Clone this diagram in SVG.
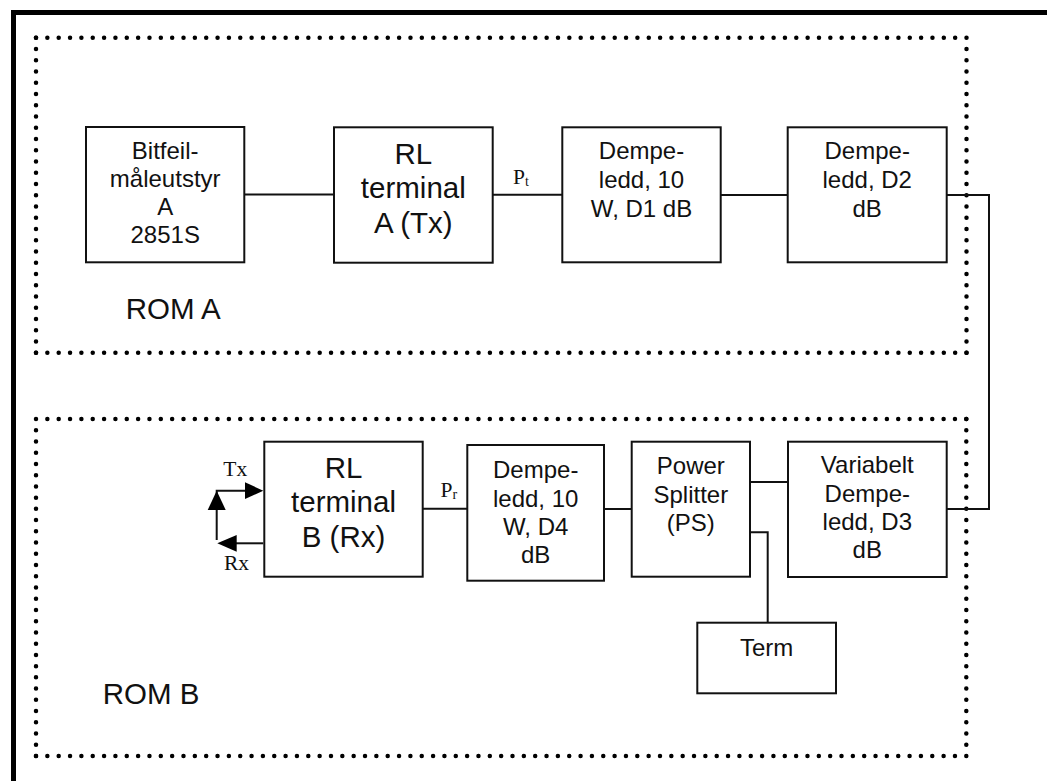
<svg xmlns="http://www.w3.org/2000/svg" width="1047" height="781" viewBox="0 0 1047 781">
<style>
.box{fill:#fff;stroke:#111;stroke-width:2}
.ln{fill:none;stroke:#111;stroke-width:2}
.dot{fill:none;stroke:#000;stroke-width:4.5;stroke-linecap:round;stroke-dasharray:0 1}
.t{font-family:"Liberation Sans",Arial,sans-serif;font-size:24px;fill:#111;text-anchor:middle}
.tl{font-family:"Liberation Sans",Arial,sans-serif;font-size:29.5px;fill:#111;text-anchor:middle}
.rom{font-family:"Liberation Sans",Arial,sans-serif;font-size:29.5px;fill:#111}
.s{font-family:"Liberation Serif","Times New Roman",serif;font-size:21.5px;fill:#111}
.sub{font-size:14px}
.ah{fill:#000}
</style>
<rect x="0" y="0" width="1047" height="781" fill="#fff"/>
<rect x="13.5" y="12.5" width="1100" height="900" fill="none" stroke="#000" stroke-width="5"/>

<g id="romA">
<line class="dot" x1="36" y1="37.7" x2="966.5" y2="37.7" pathLength="82"/>
<line class="dot" x1="966.5" y1="37.7" x2="966.5" y2="352.7" pathLength="28"/>
<line class="dot" x1="966.5" y1="352.7" x2="36" y2="352.7" pathLength="82"/>
<line class="dot" x1="36" y1="352.7" x2="36" y2="37.7" pathLength="28"/>
<text class="rom" x="125.7" y="319">ROM A</text>
</g>
<g id="romB">
<line class="dot" x1="36" y1="419" x2="966.3" y2="419" pathLength="82"/>
<line class="dot" x1="966.3" y1="419" x2="966.3" y2="756" pathLength="30"/>
<line class="dot" x1="966.3" y1="756" x2="36" y2="756" pathLength="82"/>
<line class="dot" x1="36" y1="756" x2="36" y2="419" pathLength="30"/>
<text class="rom" x="102.7" y="704">ROM B</text>
</g>

<g id="connectors">
<line class="ln" x1="244.3" y1="194.5" x2="334" y2="194.5"/>
<line class="ln" x1="492.7" y1="194.7" x2="562.3" y2="194.7"/>
<line class="ln" x1="720.7" y1="195" x2="787.7" y2="195"/>
<polyline class="ln" points="946.7,195 989,195 989,509 946.7,509"/>
<line class="ln" x1="750" y1="482" x2="788" y2="482"/>
<polyline class="ln" points="750,532.3 767.7,532.3 767.7,622.7"/>
<line class="ln" x1="604" y1="509" x2="631.7" y2="509"/>
<line class="ln" x1="422.7" y1="508.7" x2="467.3" y2="508.7"/>
<polyline class="ln" points="216.7,540 216.7,490.7 246,490.7"/>
<polygon class="ah" points="263.3,490.7 245,482.3 245,499"/>
<polygon class="ah" points="216.7,490.7 207.7,510 225.7,510"/>
<line class="ln" x1="263.3" y1="543.3" x2="235" y2="543.3"/>
<polygon class="ah" points="217.3,543.3 236.7,535 236.7,551.7"/>
<text class="s" x="440.5" y="496.7">P<tspan class="sub" dy="2.5">r</tspan></text>
<text class="s" x="513" y="184">P<tspan class="sub" dy="2">t</tspan></text>
<text class="s" x="223.3" y="476">Tx</text>
<text class="s" x="224" y="570">Rx</text>
</g>

<g id="bitfeil">
<rect class="box" x="86" y="127" width="158.3" height="135.3"/>
<text class="t" x="165.2" y="159">Bitfeil-</text>
<text class="t" x="165.2" y="187">måleutstyr</text>
<text class="t" x="165.2" y="215">A</text>
<text class="t" x="165.2" y="243.3">2851S</text>
</g>
<g id="rlA">
<rect class="box" x="334" y="127.3" width="158.7" height="135.4"/>
<text class="tl" x="413.3" y="164">RL</text>
<text class="tl" x="413.3" y="198">terminal</text>
<text class="tl" x="413.3" y="233">A (Tx)</text>
</g>
<g id="d1">
<rect class="box" x="562.3" y="127.3" width="158.4" height="135"/>
<text class="t" x="641.5" y="159.3">Dempe-</text>
<text class="t" x="641.5" y="188.3">ledd, 10</text>
<text class="t" x="641.5" y="216.7">W, D1 dB</text>
</g>
<g id="d2">
<rect class="box" x="787.7" y="127.3" width="159" height="135"/>
<text class="t" x="867.2" y="159">Dempe-</text>
<text class="t" x="867.2" y="188.3">ledd, D2</text>
<text class="t" x="867.2" y="216.7">dB</text>
</g>
<g id="rlB">
<rect class="box" x="264.3" y="441.7" width="158.4" height="135"/>
<text class="tl" x="343.5" y="478.3">RL</text>
<text class="tl" x="343.5" y="512.3">terminal</text>
<text class="tl" x="343.5" y="547.3">B (Rx)</text>
</g>
<g id="d4">
<rect class="box" x="467.3" y="445" width="136.7" height="135.7"/>
<text class="t" x="535.7" y="478.3">Dempe-</text>
<text class="t" x="535.7" y="506.5">ledd, 10</text>
<text class="t" x="535.7" y="535">W, D4</text>
<text class="t" x="535.7" y="563">dB</text>
</g>
<g id="ps">
<rect class="box" x="631.7" y="441.7" width="118.3" height="135"/>
<text class="t" x="690.8" y="474.3">Power</text>
<text class="t" x="690.8" y="502.7">Splitter</text>
<text class="t" x="690.8" y="531">(PS)</text>
</g>
<g id="d3">
<rect class="box" x="788" y="441.7" width="158.7" height="135.3"/>
<text class="t" x="867.3" y="473.3">Variabelt</text>
<text class="t" x="867.3" y="501.5">Dempe-</text>
<text class="t" x="867.3" y="530">ledd, D3</text>
<text class="t" x="867.3" y="558.3">dB</text>
</g>
<g id="term">
<rect class="box" x="697.3" y="622.7" width="138.7" height="70.6"/>
<text class="t" x="766.7" y="656">Term</text>
</g>
</svg>
